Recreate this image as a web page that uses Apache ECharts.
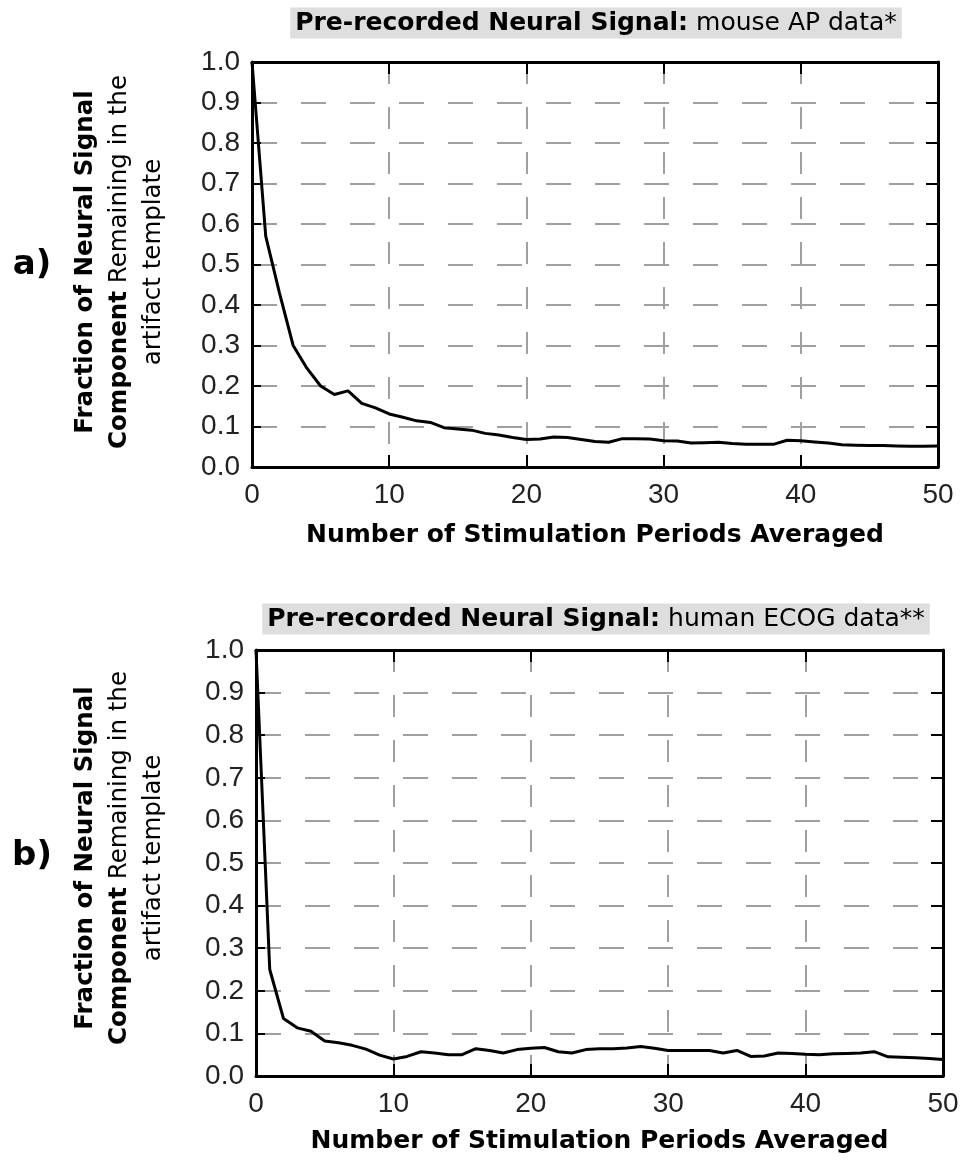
<!DOCTYPE html>
<html><head><meta charset="utf-8">
<script src="https://cdn.jsdelivr.net/npm/echarts@6/dist/echarts.min.js"></script>
<style>html,body{margin:0;padding:0;background:#fff}#c{width:965px;height:1163px}</style>
</head><body><div id="c"></div>
<script>
const periods = [0,1,2,3,4,5,6,7,8,9,10,11,12,13,14,15,16,17,18,19,20,21,22,23,24,25,26,27,28,29,30,31,32,33,34,35,36,37,38,39,40,41,42,43,44,45,46,47,48,49,50];
const mouseAP = [1.0,0.57,0.43,0.30,0.244,0.200,0.179,0.188,0.157,0.146,0.131,0.123,0.114,0.110,0.097,0.094,0.091,0.083,0.079,0.073,0.068,0.069,0.074,0.073,0.068,0.063,0.061,0.070,0.070,0.069,0.065,0.064,0.059,0.060,0.061,0.058,0.056,0.056,0.056,0.066,0.065,0.062,0.059,0.055,0.054,0.053,0.053,0.052,0.051,0.051,0.052];
const humanECOG = [1.0,0.25,0.135,0.113,0.105,0.082,0.078,0.072,0.063,0.049,0.040,0.046,0.057,0.054,0.050,0.050,0.064,0.060,0.054,0.062,0.065,0.067,0.057,0.054,0.062,0.064,0.064,0.066,0.069,0.065,0.060,0.060,0.060,0.060,0.054,0.060,0.046,0.047,0.054,0.053,0.051,0.050,0.052,0.053,0.054,0.057,0.045,0.044,0.043,0.041,0.039];
const titleBoldText = 'Pre-recorded Neural Signal:';
const titleA = 'mouse AP data*';
const titleB = 'human ECOG data**';
const xName = 'Number of Stimulation Periods Averaged';
const yLine1 = 'Fraction of Neural Signal';
const yLine2Bold = 'Component';
const yLine2Reg = 'Remaining in the';
const yLine3 = 'artifact template';
const panelLabels = ['a)', 'b)'];

const chart = echarts.init(document.getElementById('c'), null, {renderer: 'canvas'});

const BLACK = '#000';
const GRIDC = '#a0a0a0';

function xAxes(gi) {
  return [{
    type: 'value', gridIndex: gi, min: 0, max: 50, interval: 10, position: 'bottom',
    axisLine: {show: true, onZero: false, lineStyle: {color: BLACK, width: 3}},
    axisTick: {show: true, inside: true, length: 12, lineStyle: {color: BLACK, width: 2}},
    axisLabel: {fontFamily: 'Liberation Sans', fontSize: 28, color: '#222', margin: 14},
    splitLine: {show: true, showMinLine: false, showMaxLine: false, lineStyle: {color: GRIDC, width: 2, type: [22, 23]}},
    name: xName, nameLocation: 'middle', nameGap: gi === 0 ? 56 : 53,
    nameTextStyle: {fontFamily: 'DejaVu Sans', fontWeight: 'bold', fontSize: 25, color: BLACK}
  }, {
    type: 'value', gridIndex: gi, min: 0, max: 50, interval: 10, position: 'top',
    axisLine: {show: true, onZero: false, lineStyle: {color: BLACK, width: 3}},
    axisTick: {show: true, inside: true, length: 12, lineStyle: {color: BLACK, width: 2}},
    axisLabel: {show: false}, splitLine: {show: false}
  }];
}
function yAxes(gi) {
  return [{
    type: 'value', gridIndex: gi, min: 0, max: 1, interval: 0.1, position: 'left',
    axisLine: {show: true, onZero: false, lineStyle: {color: BLACK, width: 3}},
    axisTick: {show: true, inside: true, length: 9, lineStyle: {color: BLACK, width: 2}},
    axisLabel: {fontFamily: 'Liberation Sans', fontSize: 28, color: '#222', margin: 12, formatter: v => v.toFixed(1)},
    splitLine: {show: true, showMinLine: false, showMaxLine: false, lineStyle: {color: GRIDC, width: 2, type: [25, 24]}}
  }, {
    type: 'value', gridIndex: gi, min: 0, max: 1, interval: 0.1, position: 'right',
    axisLine: {show: true, onZero: false, lineStyle: {color: BLACK, width: 3}},
    axisTick: {show: true, inside: true, length: 12, lineStyle: {color: BLACK, width: 2}},
    axisLabel: {show: false}, splitLine: {show: false}
  }];
}

const richTitle = {
  b: {fontFamily: 'DejaVu Sans', fontWeight: 'bold', fontSize: 25, color: BLACK},
  r: {fontFamily: 'DejaVu Sans', fontSize: 25, color: '#111'}
};
function titleEl(x, y, sub) {
  return {type: 'text', x: x, y: y, z: 10,
    style: {text: '{b|' + titleBoldText + '}{r|\u00a0' + sub + '}', rich: richTitle,
      align: 'center', verticalAlign: 'middle', backgroundColor: '#dedede', padding: [3, 5]}};
}
const richY = {
  b: {fontFamily: 'DejaVu Sans', fontWeight: 'bold', fontSize: 24.5, color: BLACK},
  r: {fontFamily: 'DejaVu Sans', fontSize: 24.5, color: '#111'}
};
function yNameEls(cy) {
  return [
    {type: 'text', x: 86, y: cy, rotation: Math.PI / 2, style: {text: '{b|' + yLine1 + '}', rich: richY, align: 'center', verticalAlign: 'middle'}},
    {type: 'text', x: 120, y: cy, rotation: Math.PI / 2, style: {text: '{b|' + yLine2Bold + '}{r|\u00a0' + yLine2Reg + '}', rich: richY, align: 'center', verticalAlign: 'middle'}},
    {type: 'text', x: 154, y: cy, rotation: Math.PI / 2, style: {text: '{r|' + yLine3 + '}', rich: richY, align: 'center', verticalAlign: 'middle'}}
  ];
}
function panelEl(y, t) {
  return {type: 'text', x: 32, y: y, style: {text: t, font: 'bold 34px "DejaVu Sans"', fill: BLACK, align: 'center', verticalAlign: 'middle'}};
}

chart.setOption({
  animation: false,
  backgroundColor: '#fff',
  grid: [
    {left: 252, top: 62, width: 686, height: 405},
    {left: 256, top: 650, width: 687, height: 426}
  ],
  xAxis: xAxes(0).concat(xAxes(1)),
  yAxis: yAxes(0).concat(yAxes(1)),
  series: [
    {type: 'line', xAxisIndex: 0, yAxisIndex: 0, symbol: 'none', z: 5,
      lineStyle: {color: BLACK, width: 3}, data: periods.map((p, i) => [p, mouseAP[i]])},
    {type: 'line', xAxisIndex: 2, yAxisIndex: 2, symbol: 'none', z: 5,
      lineStyle: {color: BLACK, width: 3}, data: periods.map((p, i) => [p, humanECOG[i]])}
  ],
  graphic: [
    titleEl(596, 23, titleA),
    titleEl(596, 619, titleB),
    panelEl(265, panelLabels[0]),
    panelEl(856, panelLabels[1])
  ].concat(yNameEls(262)).concat(yNameEls(858))
});
</script></body></html>
